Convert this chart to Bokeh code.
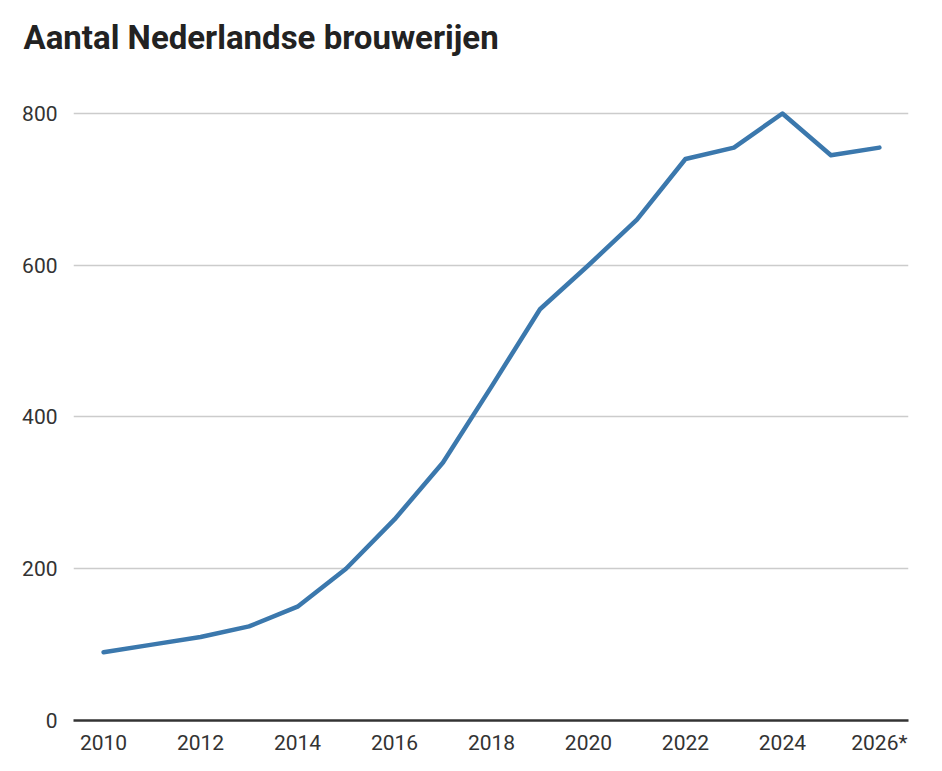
from bokeh.plotting import figure
from bokeh.models import FixedTicker, Range1d, Title
from bokeh.embed import file_html
from bokeh.resources import INLINE

# Data
years = [2010, 2011, 2012, 2013, 2014, 2015, 2016, 2017, 2018, 2019, 2020, 2021, 2022, 2023, 2024, 2025, 2026]
breweries = [90, 100, 110, 124, 150, 200, 265, 340, 440, 542, 600, 660, 740, 755, 800, 745, 755]
x_ticks = [2010, 2012, 2014, 2016, 2018, 2020, 2022, 2024, 2026]
x_tick_labels = ["2010", "2012", "2014", "2016", "2018", "2020", "2022", "2024", "2026*"]
y_ticks = [0, 200, 400, 600, 800]
title_text = "Aantal Nederlandse brouwerijen"

W, H = 942, 771
p = figure(width=W, height=H, output_backend="svg", toolbar_location=None,
           x_range=Range1d(2009.38, 2026.6), y_range=Range1d(0, 823.7),
           min_border_left=73, min_border_right=34, min_border_bottom=51, min_border_top=95)

# spacer between the frame and the title (keeps the title high up)
spacer = Title(text=" ", text_font_size="2px", standoff=35)
p.add_layout(spacer, "above")

p.title.text = title_text
p.title.text_font = "Roboto"
p.title.text_font_style = "bold"
p.title.text_font_size = "33px"
p.title.text_color = "#222222"
p.title.vertical_align = "bottom"
p.title.standoff = 0
p.title.offset = -50

p.outline_line_color = None
p.background_fill_color = "white"
p.border_fill_color = "white"

p.xgrid.grid_line_color = None
p.ygrid.grid_line_color = "#cccccc"
p.ygrid.grid_line_width = 1.5
p.ygrid.ticker = FixedTicker(ticks=y_ticks[1:])

p.yaxis.ticker = FixedTicker(ticks=y_ticks)
p.yaxis.axis_line_color = None
p.yaxis.major_tick_line_color = None
p.yaxis.minor_tick_line_color = None
p.yaxis.major_tick_out = 0
p.yaxis.major_tick_in = 0
p.yaxis.major_label_standoff = 16
p.yaxis.major_label_text_font = "Roboto"
p.yaxis.major_label_text_font_size = "21px"
p.yaxis.major_label_text_color = "#333333"

p.xaxis.ticker = FixedTicker(ticks=x_ticks)
p.xaxis.major_label_overrides = {t: l for t, l in zip(x_ticks, x_tick_labels)}
p.xaxis.axis_line_color = "#333333"
p.xaxis.axis_line_width = 2.5
p.xaxis.major_tick_line_color = None
p.xaxis.minor_tick_line_color = None
p.xaxis.major_tick_out = 0
p.xaxis.major_tick_in = 0
p.xaxis.major_label_standoff = 10
p.xaxis.major_label_text_font = "Roboto"
p.xaxis.major_label_text_font_size = "21px"
p.xaxis.major_label_text_color = "#333333"

p.line(years, breweries, line_color="#3b78ad", line_width=4.5,
       line_join="round", line_cap="round")

open("out.html", "w").write(file_html(p, INLINE))
